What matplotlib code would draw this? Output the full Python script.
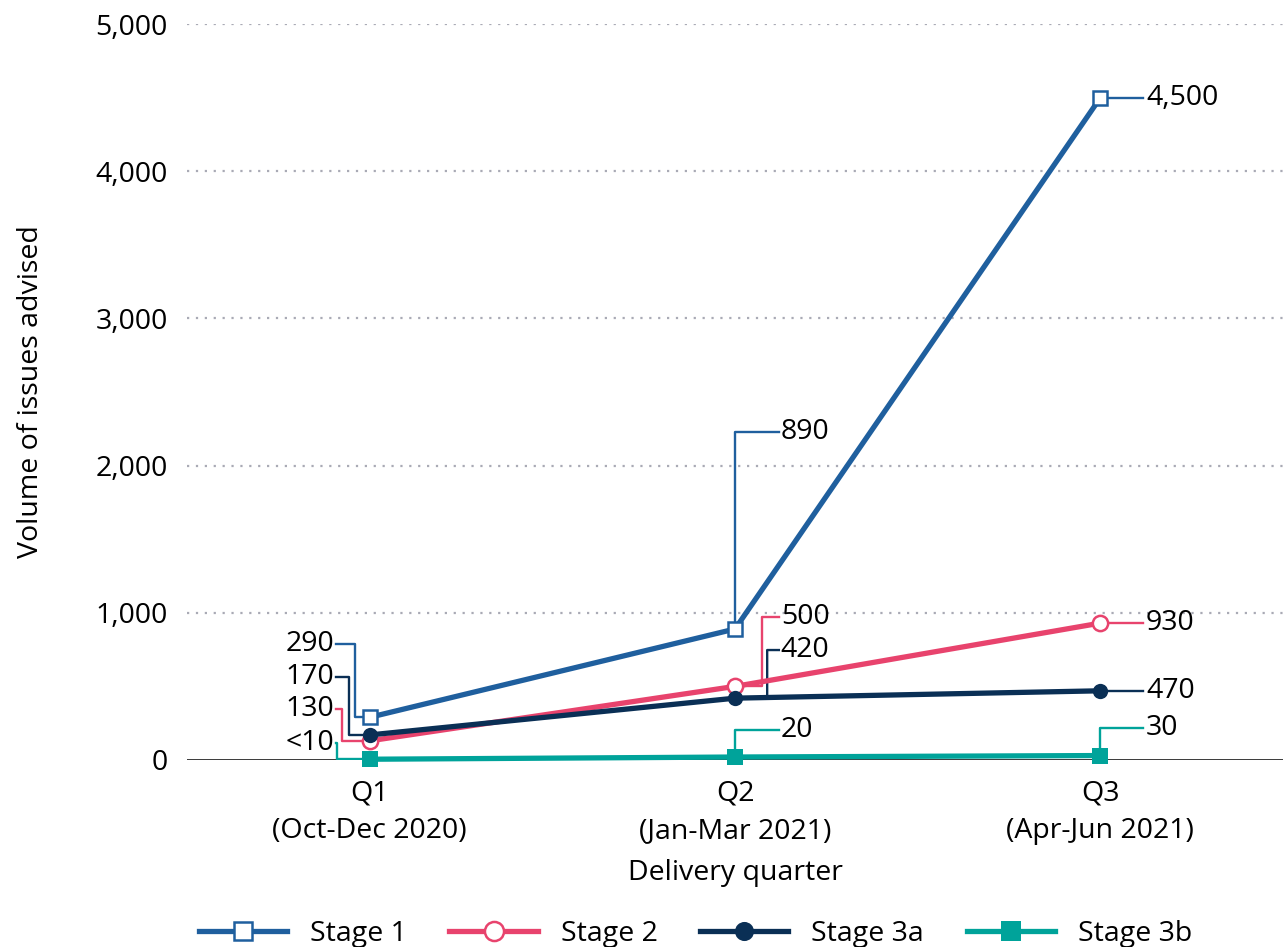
import matplotlib
matplotlib.use("Agg")
import matplotlib.pyplot as plt

# data
quarters = ["Q1\n(Oct-Dec 2020)", "Q2\n(Jan-Mar 2021)", "Q3\n(Apr-Jun 2021)"]
series_names = ["Stage 1", "Stage 2", "Stage 3a", "Stage 3b"]
stage1 = [290, 890, 4500]
stage2 = [130, 500, 930]
stage3a = [170, 420, 470]
stage3b = [5, 20, 30]
labels1 = ["290", "890", "4,500"]
labels2 = ["130", "500", "930"]
labels3a = ["170", "420", "470"]
labels3b = ["<10", "20", "30"]

colors = ["#1f5f9e", "#e8436d", "#0a2f55", "#00a39a"]
plt.rcParams['font.family'] = ['Open Sans', 'DejaVu Sans']

fig = plt.figure(figsize=(12.83, 9.47), dpi=100)
ax = fig.add_axes([0.1458, 0.1975, 0.8542, 0.777])

x = [0, 1, 2]
styles = [
    dict(marker="s", mfc="white", mew=1.8, ms=10),
    dict(marker="o", mfc="white", mew=1.8, ms=11),
    dict(marker="o", mfc=None, mew=0, ms=11),
    dict(marker="s", mfc=None, mew=0, ms=12),
]
data = [stage1, stage2, stage3a, stage3b]
handles = []
for vals, name, c, st in zip(data, series_names, colors, styles):
    kw = dict(st)
    if kw["mfc"] is None:
        kw["mfc"] = c
    h, = ax.plot(x, vals, color=c, lw=3.8, mec=c, label=name, zorder=4,
                 clip_on=False, **kw)
    handles.append(h)

lw_l = 1.7
fs = 20.5

# Q1 callouts (left of point)
q1_text_y = [788, 346, 564, 115]
q1_vx = [-0.040, -0.075, -0.056, -0.089]
q1_labels = [labels1[0], labels2[0], labels3a[0], labels3b[0]]
for vals, c, ty, vx, lab in zip(data, colors, q1_text_y, q1_vx, q1_labels):
    ax.plot([-0.092, vx, vx, 0], [ty, ty, vals[0], vals[0]], color=c, lw=lw_l, zorder=3)
    ax.text(-0.098, ty, lab, ha="right", va="center", fontsize=fs)

# Q2 callouts (right of point)
q2_text_y = [2228, 971, 747, 204]
q2_vx = [1.0, 1.074, 1.088, 1.0]
q2_labels = [labels1[1], labels2[1], labels3a[1], labels3b[1]]
for i, (vals, c, ty, vx, lab) in enumerate(zip(data, colors, q2_text_y, q2_vx, q2_labels)):
    y0 = vals[1]
    if i == 2:
        y0 = vals[1] + (vals[2] - vals[1]) * (vx - 1)
    ax.plot([1, vx, vx, 1.12], [vals[1], y0, ty, ty], color=c, lw=lw_l, zorder=3)
    ax.text(1.125, ty, lab, ha="left", va="center", fontsize=fs)

# Q3 callouts
q3_text_y = [4500, 930, 470, 217]
q3_labels = [labels1[2], labels2[2], labels3a[2], labels3b[2]]
for vals, c, ty, lab in zip(data, colors, q3_text_y, q3_labels):
    ax.plot([2, 2, 2.118], [vals[2], ty, ty], color=c, lw=lw_l, zorder=3)
    ax.text(2.125, ty, lab, ha="left", va="center", fontsize=fs)

ax.set_xlim(-0.5, 2.5)
ax.set_ylim(0, 5000)
ax.set_yticks([0, 1000, 2000, 3000, 4000, 5000])
ax.set_yticklabels(["0", "1,000", "2,000", "3,000", "4,000", "5,000"], fontsize=fs)
ax.set_xticks(x)
ax.set_xticklabels(quarters, fontsize=fs, linespacing=1.45)
ax.tick_params(length=0, pad=14)
ax.tick_params(axis="x", pad=14)
for s in ax.spines.values():
    s.set_visible(False)
for yv in [1000, 2000, 3000, 4000, 5000]:
    ax.axhline(yv, color="#a9aab5", lw=1.6, ls=(0, (1, 3)), zorder=1)
ax.axhline(0, color="black", lw=1.8, zorder=2)

ax.set_ylabel("Volume of issues advised", fontsize=fs, labelpad=36)
ax.set_xlabel("Delivery quarter", fontsize=fs, labelpad=10)

fig.legend(handles=handles, loc="lower center", ncol=4, frameon=False, fontsize=fs,
           handlelength=3.1, columnspacing=1.5, handletextpad=0.8, markerscale=1.25,
           bbox_to_anchor=(0.542, -0.028))

fig.savefig("out.png", dpi=100)
